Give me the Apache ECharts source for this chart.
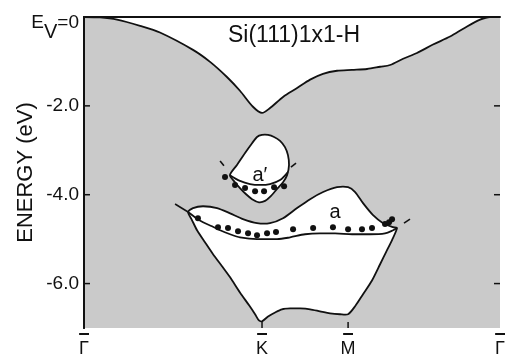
<!DOCTYPE html>
<html><head><meta charset="utf-8">
<script src="https://cdn.jsdelivr.net/npm/echarts@6/dist/echarts.min.js"></script>
<style>html,body{margin:0;padding:0;background:#fff}#c{width:507px;height:360px}</style>
</head><body><div id="c"></div>
<script>
// high-symmetry points (Γ–K = 1)
const kTicks = [0, 1.0125, 1.502, 2.366];
const kLabels = ['\u0393', 'K', 'M', '\u0393'];
const eTicks = [0, -2, -4, -6];
const eBodyTicks = [-2, -4, -6];
const kInnerTicks = [1.0125, 1.502];

// upper edge of projected bulk bands
const bandEdge = [[0,0],[0.091,-0.01],[0.188,-0.06],[0.319,-0.20],[0.432,-0.35],[0.620,-0.74],[0.717,-1.01],[0.813,-1.35],[0.887,-1.66],[0.961,-2.02],[1.0125,-2.16],[1.058,-2.05],[1.132,-1.80],[1.212,-1.60],[1.286,-1.41],[1.359,-1.28],[1.439,-1.21],[1.524,-1.19],[1.610,-1.17],[1.684,-1.12],[1.741,-1.08],[1.815,-0.94],[1.894,-0.81],[1.985,-0.62],[2.082,-0.44],[2.167,-0.24],[2.253,-0.06],[2.309,0],[2.366,0]];

// gap pocket a'
const pocketA1 = [[0.830,-3.56],[0.870,-3.33],[0.916,-3.06],[0.956,-2.84],[0.984,-2.70],[1.012,-2.655],[1.047,-2.655],[1.081,-2.70],[1.115,-2.79],[1.143,-2.93],[1.160,-3.11],[1.166,-3.33],[1.155,-3.56],[1.132,-3.72],[1.098,-3.87],[1.058,-4.05],[1.030,-4.14],[0.995,-4.17],[0.956,-4.10],[0.922,-3.99],[0.887,-3.85],[0.859,-3.72]];
const innerA1 = [[0.830,-3.56],[0.887,-3.69],[0.944,-3.76],[1.001,-3.78],[1.058,-3.76],[1.115,-3.67],[1.160,-3.49]];

// gap pocket a (lower)
const pocketA = [[0.592,-4.39],[0.620,-4.30],[0.677,-4.26],[0.757,-4.30],[0.831,-4.42],[0.904,-4.55],[0.984,-4.64],[1.058,-4.64],[1.132,-4.53],[1.212,-4.30],[1.286,-4.10],[1.360,-3.94],[1.439,-3.83],[1.502,-3.83],[1.542,-3.94],[1.587,-4.19],[1.644,-4.46],[1.701,-4.64],[1.758,-4.73],[1.780,-4.75],[1.752,-5.02],[1.718,-5.29],[1.684,-5.565],[1.638,-5.93],[1.587,-6.24],[1.542,-6.51],[1.502,-6.69],[1.456,-6.69],[1.399,-6.67],[1.342,-6.625],[1.286,-6.58],[1.229,-6.56],[1.172,-6.56],[1.126,-6.58],[1.087,-6.65],[1.047,-6.74],[1.0125,-6.85],[0.995,-6.83],[0.973,-6.69],[0.939,-6.49],[0.887,-6.20],[0.831,-5.86],[0.785,-5.61],[0.734,-5.34],[0.688,-5.07],[0.643,-4.80],[0.614,-4.57]];
const innerA = [[0.592,-4.39],[0.631,-4.505],[0.677,-4.62],[0.728,-4.71],[0.774,-4.80],[0.831,-4.89],[0.887,-4.96],[0.984,-5.00],[1.098,-5.00],[1.172,-4.96],[1.257,-4.89],[1.342,-4.87],[1.428,-4.87],[1.525,-4.89],[1.627,-4.89],[1.712,-4.87],[1.758,-4.80],[1.780,-4.75]];

// measured surface states
const dotsA1 = [[0.802,-3.60],[0.859,-3.78],[0.916,-3.85],[0.973,-3.92],[1.024,-3.92],[1.081,-3.83],[1.138,-3.81]];
const dotsA = [[0.648,-4.53],[0.762,-4.73],[0.819,-4.75],[0.876,-4.82],[0.933,-4.87],[0.984,-4.91],[1.041,-4.87],[1.092,-4.84],[1.189,-4.78],[1.303,-4.75],[1.416,-4.73],[1.502,-4.78],[1.581,-4.78],[1.638,-4.75],[1.712,-4.66],[1.735,-4.62],[1.752,-4.55]];

// short extensions of the surface bands
const extSegments = [
  [[0.518,-4.21],[0.592,-4.39]],
  [[1.820,-4.64],[1.854,-4.55]],
  [[0.774,-3.24],[0.796,-3.35]],
  [[1.177,-3.38],[1.206,-3.29]]
];
const stateLabels = [{name:'a\u2032', value:[1.0,-3.56]}, {name:'a', value:[1.428,-4.39]}];

const K_MIN = 0, K_MAX = 2.366, E_MIN = -7, E_MAX = 0;
const TICK_K = 0.034, TICK_E = 0.135;   // inward tick lengths (~6 px) in axis units

const FONT = 'Liberation Sans, Arial, sans-serif';
const INK = '#111';

function polySeries(pts){
  return {
    type:'custom', data: pts, encode:{x:0,y:1}, z:3, silent:true,
    renderItem: function(params, api){
      if (params.dataIndex !== 0) return null;
      const p = pts.map(q => api.coord(q));
      return {type:'polygon', shape:{points:p, smooth:0.25}, style:{fill:'#fff', stroke:INK, lineWidth:1.8}};
    }
  };
}
function lineSeries(pts, z){
  return {type:'line', data: pts, symbol:'none', smooth:0.3, z:z||4, silent:true,
    lineStyle:{color:INK, width:1.8}};
}
function segSeries(pts, w, z){
  return {type:'line', data: pts, symbol:'none', z:z||4, clip:false, silent:true, lineStyle:{color:INK, width:w}};
}

const tickSegs = [
  ...kInnerTicks.map(k => [[k, E_MIN],[k, E_MIN + TICK_E]]),
  ...eBodyTicks.map(e => [[K_MIN, e],[K_MIN + TICK_K, e]]),
  ...eBodyTicks.map(e => [[K_MAX, e],[K_MAX - TICK_K, e]])
];

const series = [
  {type:'line', data: bandEdge, symbol:'none', smooth:0.3, z:2, silent:true,
   lineStyle:{color:INK, width:1.8}, areaStyle:{color:'#fff', opacity:1, origin:'end'}},
  polySeries(pocketA1),
  polySeries(pocketA),
  lineSeries(innerA1),
  lineSeries(innerA),
  ...extSegments.map(s => segSeries(s, 1.6, 4)),
  segSeries([[K_MIN, E_MAX],[K_MAX, E_MAX]], 2, 8),
  ...tickSegs.map(s => segSeries(s, 1.5, 9)),
  {type:'scatter', data: dotsA1, symbol:'circle', symbolSize:6, itemStyle:{color:INK, opacity:1}, z:5, silent:true},
  {type:'scatter', data: dotsA, symbol:'circle', symbolSize:6, itemStyle:{color:INK, opacity:1}, z:5, silent:true},
  {type:'scatter', data: stateLabels, symbolSize:0, z:6, silent:true, itemStyle:{opacity:1},
   label:{show:true, position:'inside', formatter:'{b}', fontSize:20, fontFamily:FONT, color:INK, opacity:1, textBorderWidth:0}}
];

const chart = echarts.init(document.getElementById('c'), null, {renderer:'canvas'});
chart.setOption({
  animation:false,
  backgroundColor:'#fff',
  title:{text:'Si(111)1x1-H', left:228, top:24, padding:0,
    textStyle:{fontSize:23, fontWeight:'normal', fontFamily:FONT, color:INK}},
  grid:{left:84, right:7, top:17, bottom:32, show:true, backgroundColor:'#cacaca', borderWidth:0,
    containLabel:false, outerBoundsMode:'none'},
  xAxis:[
    {type:'value', min:K_MIN, max:K_MAX, position:'bottom', z:10,
     axisLine:{show:true, lineStyle:{color:INK, width:2}},
     axisTick:{show:false},
     axisLabel:{show:true, customValues:kTicks, margin:12, fontSize:18, fontFamily:FONT, color:INK,
       formatter:function(v){ const i = kTicks.indexOf(v); return i>=0 ? kLabels[i] : ''; }},
     splitLine:{show:false}},
    {type:'value', min:K_MIN, max:K_MAX, position:'bottom', z:10,
     axisLine:{show:false}, axisTick:{show:false}, splitLine:{show:false},
     axisLabel:{show:true, customValues:kTicks, margin:1, fontSize:20, fontWeight:'bold', lineHeight:8, fontFamily:FONT, color:INK,
       formatter:function(){ return '\u2013'; }}}
  ],
  yAxis:[
    {type:'value', min:E_MIN, max:E_MAX, position:'left', z:10,
     name:'ENERGY (eV)', nameLocation:'middle', nameRotate:90, nameGap:47, nameMoveOverlap:false,
     nameTextStyle:{fontSize:22, fontFamily:FONT, color:INK},
     axisLine:{show:true, lineStyle:{color:INK, width:2}},
     axisTick:{show:false},
     axisLabel:{show:true, customValues:eTicks, margin:5, fontSize:19, fontFamily:FONT, color:INK,
       formatter:function(v){ return v === 0 ? '{e|E}{s|V}{e|=0}' : v.toFixed(1); },
       rich:{
         e:{fontSize:19, fontFamily:FONT, color:INK, padding:[12,0,0,0]},
         s:{fontSize:20, fontFamily:FONT, color:INK, padding:[30,0,0,0]}
       }},
     splitLine:{show:false}},
    {type:'value', min:E_MIN, max:E_MAX, position:'right', z:10,
     axisLine:{show:true, lineStyle:{color:INK, width:2}},
     axisTick:{show:false}, axisLabel:{show:false}, splitLine:{show:false}}
  ],
  series: series
});
</script>
</body></html>
